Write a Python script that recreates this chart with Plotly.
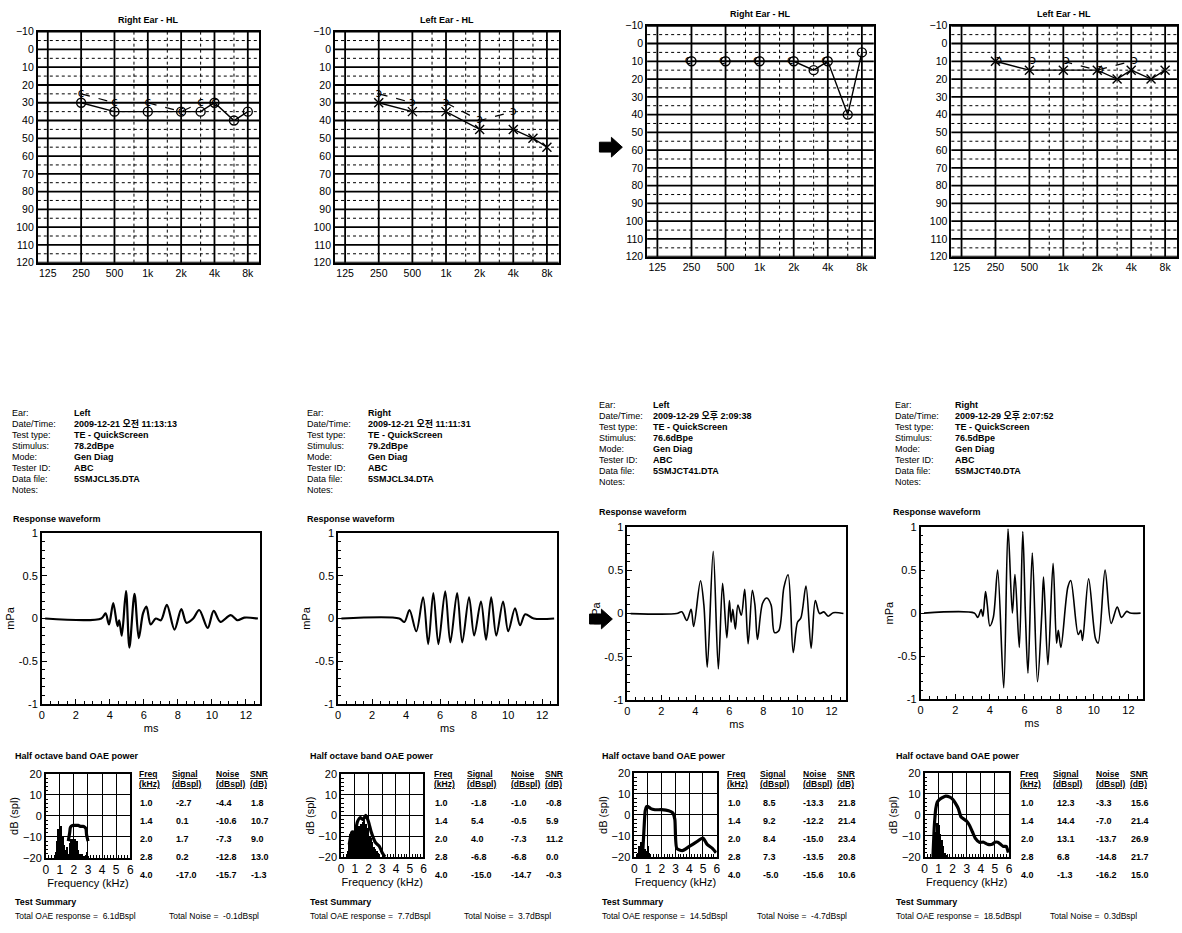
import math
import plotly.graph_objects as go

W, H = 1182, 933
FONT = "Liberation Sans, Arial, Noto Sans CJK KR, sans-serif"

# ---------------- DATA ----------------
AUD_TICK_FREQS = [125, 250, 500, 1000, 2000, 4000, 8000]
AUD_TICK_TEXT = ["125", "250", "500", "1k", "2k", "4k", "8k"]
AUD_HALF_FREQS = [750, 1500, 3000, 6000]
AUD_DB_TICKS = [-10, 0, 10, 20, 30, 40, 50, 60, 70, 80, 90, 100, 110, 120]
AUD_DB_HALF = [-5, 5, 15, 25, 35, 45, 55, 65, 75, 85, 95, 105, 115]
AUD_TITLES = ["Right Ear - HL", "Left Ear - HL", "Right Ear - HL", "Left Ear - HL"]

# audiogram 1 : right ear, before
A1_AIR_F = [250, 500, 1000, 2000, 3000, 4000, 6000, 8000]
A1_AIR_DB = [30, 35, 35, 35, 35, 30, 40, 35]
A1_BONE_F = [250, 500, None, 1000, 2000, 3000, 4000]
A1_BONE_DB = [25, 30, None, 30, 35, 30, 30]
# audiogram 2 : left ear, before
A2_AIR_F = [250, 500, 1000, 2000, 4000, 6000, 8000]
A2_AIR_DB = [30, 35, 35, 45, 45, 50, 55]
A2_BONE_F = [250, 500, None, 1000, 2000, 4000]
A2_BONE_DB = [25, 30, None, 30, 40, 35]
# audiogram 3 : right ear, after
A3_AIR_F = [250, 500, 1000, 2000, 3000, 4000, 6000, 8000]
A3_AIR_DB = [10, 10, 10, 10, 15, 10, 40, 5]
A3_BONE_F = [250, 500, 1000, 2000, 4000]
A3_BONE_DB = [10, 10, 10, 10, 10]
# audiogram 4 : left ear, after
A4_AIR_F = [250, 500, 1000, 2000, 3000, 4000, 6000, 8000]
A4_AIR_DB = [10, 15, 15, 15, 20, 15, 20, 15]
A4_BONE_F = [250, None, 500, None, 1000, 2000, 4000]
A4_BONE_DB = [10, None, 10, None, 10, 15, 10]

INFO_LABELS = ["Ear:", "Date/Time:", "Test type:", "Stimulus:", "Mode:", "Tester ID:", "Data file:", "Notes:"]
INFO_1 = ["Left", "2009-12-21 오전 11:13:13", "TE - QuickScreen", "78.2dBpe", "Gen Diag", "ABC", "5SMJCL35.DTA", ""]
INFO_2 = ["Right", "2009-12-21 오전 11:11:31", "TE - QuickScreen", "79.2dBpe", "Gen Diag", "ABC", "5SMJCL34.DTA", ""]
INFO_3 = ["Left", "2009-12-29 오후 2:09:38", "TE - QuickScreen", "76.6dBpe", "Gen Diag", "ABC", "5SMJCT41.DTA", ""]
INFO_4 = ["Right", "2009-12-29 오후 2:07:52", "TE - QuickScreen", "76.5dBpe", "Gen Diag", "ABC", "5SMJCT40.DTA", ""]

# response waveforms (ms, mPa)
W1_T = [0.2, 3.5, 3.75, 3.95, 4.2, 4.45, 4.55, 4.7, 4.95, 5.15, 5.45, 5.7, 5.95, 6.15, 6.4, 6.7, 7.0, 7.35, 7.8, 8.2, 8.5, 8.9, 9.25, 9.75, 10.1, 10.5, 11.1, 11.5, 11.9, 12.7]
W1_V = [0, 0, 0.06, -0.07, 0.18, -0.09, -0.02, -0.2, 0.32, -0.34, 0.29, -0.23, 0.06, 0.14, -0.07, 0.0, -0.02, 0.16, -0.13, 0.11, -0.05, 0.0, 0.1, -0.11, 0.09, -0.04, 0.04, -0.02, 0.01, 0]
W2_T = [0.2, 3.6, 3.9, 4.2, 4.6, 5.0, 5.3, 5.6, 5.9, 6.3, 6.6, 7.0, 7.3, 7.7, 8.0, 8.4, 8.7, 9.0, 9.3, 9.7, 10.0, 10.4, 10.7, 11.0, 11.5, 12.7]
W2_V = [0, 0, -0.04, 0.1, -0.15, 0.25, -0.3, 0.3, -0.3, 0.32, -0.28, 0.3, -0.28, 0.25, -0.2, 0.2, -0.25, 0.25, -0.2, 0.2, -0.15, 0.12, -0.08, 0.05, 0.0, 0]
W3_T = [0.2, 2.9, 3.2, 3.5, 3.75, 3.9, 4.3, 4.5, 4.7, 5.05, 5.35, 5.6, 5.85, 6.0, 6.1, 6.2, 6.35, 6.5, 6.7, 6.9, 7.1, 7.35, 7.5, 7.65, 7.95, 8.2, 8.45, 8.65, 8.9, 9.2, 9.45, 9.75, 10.0, 10.2, 10.5, 10.8, 11.05, 11.3, 11.55, 11.8, 12.1, 12.7]
W3_V = [0, 0, 0.02, -0.08, 0.05, -0.15, 0.38, 0.1, -0.62, 0.72, -0.64, 0.35, -0.28, 0.15, -0.1, 0.05, -0.18, 0.1, -0.02, 0.28, -0.35, 0.27, 0.1, -0.3, 0.12, 0.18, 0.1, -0.22, -0.2, 0.3, 0.45, -0.45, -0.1, -0.05, 0.32, -0.4, 0.15, 0.0, 0.02, -0.03, 0.01, 0]
W4_T = [0.2, 3.1, 3.3, 3.5, 3.6, 3.75, 3.85, 4.0, 4.2, 4.45, 4.8, 5.05, 5.3, 5.45, 5.7, 5.9, 6.05, 6.2, 6.45, 6.75, 7.0, 7.1, 7.35, 7.65, 7.85, 7.95, 8.1, 8.5, 8.67, 9.1, 9.25, 9.35, 9.7, 10.1, 10.25, 10.65, 11.0, 11.35, 11.6, 11.9, 12.1, 12.7]
W4_V = [0, 0, -0.05, 0.04, -0.04, 0.25, 0.1, -0.15, -0.05, 0.5, -0.87, 0.98, 0.0, 0.45, -0.4, 0.95, 0.0, -0.7, 0.7, -0.8, 0.0, 0.42, -0.6, 0.58, -0.35, -0.2, -0.4, 0.3, 0.38, -0.25, -0.2, -0.32, 0.4, -0.3, -0.35, 0.5, -0.12, 0.07, -0.05, 0.02, 0.0, 0]

# half octave band OAE power spectra (kHz, dB spl)
O1_NOISE_F = [0.7, 0.8, 0.9, 1.0, 1.1, 1.2, 1.3, 1.4, 1.5, 1.6, 1.7, 1.8, 1.9, 2.0, 2.1, 2.2, 2.3, 2.4, 2.5, 2.6, 2.7, 2.8, 2.9, 3.0]
O1_NOISE_DB = [-17, -12, -6, -8, -5, -10, -14, -16, -15, -18, -13, -11, -11, -12, -11, -12, -16, -18, -19, -18, -19, -19, -17, -19]
O1_SIG_F = [1.6, 1.7, 1.75, 1.9, 2.1, 2.3, 2.5, 2.7, 2.85, 2.9, 3.0]
O1_SIG_DB = [-12, -8, -5.5, -4.5, -4.5, -4.5, -5, -5, -6, -9, -12]
O2_NOISE_F = [0.5, 0.6, 0.7, 0.8, 0.9, 1.0, 1.1, 1.2, 1.3, 1.4, 1.5, 1.6, 1.7, 1.8, 1.9, 2.0, 2.1, 2.2, 2.3, 2.4, 2.5, 2.6, 2.7, 2.8]
O2_NOISE_DB = [-17, -14, -9, -8, -8, -8, -6, -3, -5, -10, -4, -3, -2, -4, -6, -8, -10, -11, -13, -15, -16, -17, -18, -19]
O2_SIG_F = [0.6, 0.8, 1.0, 1.2, 1.4, 1.6, 1.8, 2.0, 2.2, 2.5, 2.8, 3.0, 3.2]
O2_SIG_DB = [-14, -8, -8, -3, -1, -2, 0, -3, -8, -13, -15, -18, -20]
O3_NOISE_F = [0.3, 0.4, 0.5, 0.6, 0.7, 0.8, 0.9, 1.0, 1.1, 1.2]
O3_NOISE_DB = [-18, -15, -13, -14, -17, -16, -17, -15, -18, -19]
O3_SIG_F = [0.6, 0.7, 0.8, 0.9, 1.0, 1.2, 1.5, 2.0, 2.5, 2.8, 2.95, 3.1, 3.5, 4.0, 4.5, 5.0, 5.3, 5.7, 5.95]
O3_SIG_DB = [-20, -8, 2, 4, 4, 3, 2.5, 2.5, 2, 1, -2, -16, -17, -15, -13, -11, -14, -16, -18]
O4_NOISE_F = [0.6, 0.7, 0.8, 0.9, 1.0, 1.1, 1.2, 1.3, 1.4, 1.5]
O4_NOISE_DB = [-17, -12, -8, -4, -5, -9, -12, -15, -18, -19]
O4_SIG_F = [0.6, 0.7, 0.8, 0.9, 1.0, 1.2, 1.5, 1.8, 2.0, 2.2, 2.4, 2.6, 2.8, 3.0, 3.2, 3.4, 3.6, 3.9, 4.2, 4.5, 4.8, 5.0, 5.2, 5.4, 5.6, 5.8, 5.95]
O4_SIG_DB = [-20, -5, 3, 6, 7, 8, 9, 8.5, 7.5, 5.5, 3, -1, -2, -3, -5, -8, -11, -13, -13, -14, -14, -13, -13, -14, -15, -15, -18]

TABLE_FREQ = ["1.0", "1.4", "2.0", "2.8", "4.0"]
T1_SIG = ["-2.7", "0.1", "1.7", "0.2", "-17.0"]
T1_NOISE = ["-4.4", "-10.6", "-7.3", "-12.8", "-15.7"]
T1_SNR = ["1.8", "10.7", "9.0", "13.0", "-1.3"]
T2_SIG = ["-1.8", "5.4", "4.0", "-6.8", "-15.0"]
T2_NOISE = ["-1.0", "-0.5", "-7.3", "-6.8", "-14.7"]
T2_SNR = ["-0.8", "5.9", "11.2", "0.0", "-0.3"]
T3_SIG = ["8.5", "9.2", "8.4", "7.3", "-5.0"]
T3_NOISE = ["-13.3", "-12.2", "-15.0", "-13.5", "-15.6"]
T3_SNR = ["21.8", "21.4", "23.4", "20.8", "10.6"]
T4_SIG = ["12.3", "14.4", "13.1", "6.8", "-1.3"]
T4_NOISE = ["-3.3", "-7.0", "-13.7", "-14.8", "-16.2"]
T4_SNR = ["15.6", "21.4", "26.9", "21.7", "15.0"]

TOTAL_OAE = ["6.1dBspl", "7.7dBspl", "14.5dBspl", "18.5dBspl"]
TOTAL_NOISE = ["-0.1dBspl", "3.7dBspl", "-4.7dBspl", "0.3dBspl"]

# ---------------- FIGURE ----------------
fig = go.Figure()
layout = dict(width=W, height=H, margin=dict(l=0, r=0, t=0, b=0, pad=0),
              plot_bgcolor="white", paper_bgcolor="white", showlegend=False,
              font=dict(family=FONT, color="black"))


def ax_name(kind, i):
    return kind + ("axis" if i == 1 else "axis%d" % i)


def set_axes(i, box, xcfg, ycfg):
    x0, x1, y0, y1 = box
    xcfg = dict(xcfg, domain=[x0 / W, x1 / W], anchor="y" if i == 1 else "y%d" % i)
    ycfg = dict(ycfg, domain=[1 - y1 / H, 1 - y0 / H], anchor="x" if i == 1 else "x%d" % i)
    layout[ax_name("x", i)] = xcfg
    layout[ax_name("y", i)] = ycfg


def ref(i):
    return ("x" if i == 1 else "x%d" % i), ("y" if i == 1 else "y%d" % i)


def text(x, y, s, size=9.5, anchor="left", bold=False, yanchor="middle"):
    fig.add_annotation(x=x / W, y=1 - y / H, xref="paper", yref="paper",
                       text=("<b>%s</b>" % s if bold else s), showarrow=False,
                       xanchor=anchor, yanchor=yanchor,
                       font=dict(size=size, family=FONT, color="black"))


def oct_pos(freqs):
    return [None if f is None else math.log2(f / 125.0) for f in freqs]


def vgrid(i, xs, width, dash):
    xr, yr = ref(i)
    for xv in xs:
        fig.add_shape(type="line", xref=xr, yref=yr + " domain", x0=xv, x1=xv, y0=0, y1=1,
                      line=dict(color="black", width=width, dash=dash), layer="below")


def hgrid(i, ys, width, dash):
    xr, yr = ref(i)
    for yv in ys:
        fig.add_shape(type="line", xref=xr + " domain", yref=yr, x0=0, x1=1, y0=yv, y1=yv,
                      line=dict(color="black", width=width, dash=dash), layer="below")


# ----- audiograms -----
AUD_BOX = [(35, 258, 26, 260), (334, 559, 26, 260), (648, 876, 20, 254), (954, 1181, 20, 254)]
aud_series = [
    (A1_AIR_F, A1_AIR_DB, "circle-open", A1_BONE_F, A1_BONE_DB, "c", "lines+text", "middle center"),
    (A2_AIR_F, A2_AIR_DB, "x-thin-open", A2_BONE_F, A2_BONE_DB, "ɔ", "lines+text", "middle center"),
    (A3_AIR_F, A3_AIR_DB, "circle-open", A3_BONE_F, A3_BONE_DB, "c", "text", "middle left"),
    (A4_AIR_F, A4_AIR_DB, "x-thin-open", A4_BONE_F, A4_BONE_DB, "ɔ", "lines+text", "middle right"),
]
for k in range(4):
    i = k + 1
    box = AUD_BOX[k]
    xcfg = dict(range=[-0.3, 6.35], tickvals=oct_pos(AUD_TICK_FREQS), ticktext=AUD_TICK_TEXT,
                showgrid=False, zeroline=False,
                showline=True, mirror=True, linecolor="black", linewidth=1.8, ticks="",
                tickfont=dict(size=10.5, family=FONT), fixedrange=True)
    ycfg = dict(range=[120, -10], tickvals=AUD_DB_TICKS, showgrid=False,
                zeroline=False, showline=True, mirror=True, linecolor="black",
                linewidth=1.8, ticks="", tickfont=dict(size=10.5, family=FONT), fixedrange=True)
    set_axes(i, box, xcfg, ycfg)
    vgrid(i, oct_pos(AUD_TICK_FREQS), 1.8, "solid")
    vgrid(i, oct_pos(AUD_HALF_FREQS), 1.0, "dot")
    hgrid(i, AUD_DB_TICKS, 1.8, "solid")
    hgrid(i, AUD_DB_HALF, 1.0, "dot")
    xr, yr = ref(i)
    af, adb, sym, bf, bdb, btxt, bmode, bpos = aud_series[k]
    fig.add_trace(go.Scatter(x=oct_pos(af), y=adb, mode="lines+markers", xaxis=xr, yaxis=yr,
                             line=dict(color="black", width=1.4),
                             marker=dict(symbol=sym, size=9, color="black",
                                         line=dict(color="black", width=1.4))))
    fig.add_trace(go.Scatter(x=oct_pos(bf), y=bdb, mode=bmode, xaxis=xr, yaxis=yr,
                             text=[btxt if d is not None else "" for d in bdb],
                             textposition=bpos,
                             textfont=dict(size=12, color="black", family="DejaVu Sans"),
                             line=dict(color="black", width=1.2, dash="dash")))
    text((box[0] + box[1]) / 2, box[2] - 12, AUD_TITLES[k], size=9, anchor="center", bold=True)

# ----- arrows -----
for (ax0, ay) in [(600, 143), (590, 621)]:
    pts = [(ax0, ay - 5), (ax0 + 12, ay - 5), (ax0 + 12, ay - 10), (ax0 + 23, ay),
           (ax0 + 12, ay + 10), (ax0 + 12, ay + 5), (ax0, ay + 5)]
    path = "M " + " L ".join("%.4f,%.4f" % (px / W, 1 - py / H) for px, py in pts) + " Z"
    fig.add_shape(type="path", path=path, xref="paper", yref="paper",
                  fillcolor="black", line=dict(color="black", width=1))

# ----- info blocks -----
COL_LABEL_X = [7, 304, 598, 895]
COL_VALUE_X = [69, 365, 652, 956]
COL_INFO_Y0 = [412, 412, 404, 404]
infos = [INFO_1, INFO_2, INFO_3, INFO_4]
for c in range(4):
    for r, lab in enumerate(INFO_LABELS):
        y = COL_INFO_Y0[c] + r * 11.2
        text(COL_LABEL_X[c], y, lab, size=9)
        if infos[c][r]:
            text(COL_VALUE_X[c], y, infos[c][r], size=9, bold=True)

# ----- waveforms -----
WAVE_BOX = [(39, 259, 534, 707), (337, 557, 534, 707), (628, 848, 528, 703), (923, 1147, 528, 702)]
WAVE_TITLE = [(8, 520), (304, 520), (598, 513), (893, 513)]
WAVE_WIDTH = [2.2, 2.0, 1.6, 1.6]
waves = [(W1_T, W1_V), (W2_T, W2_V), (W3_T, W3_V), (W4_T, W4_V)]
for k in range(4):
    i = 5 + k
    xcfg = dict(range=[0, 12.85], tickvals=[0, 2, 4, 6, 8, 10, 12], showgrid=False, zeroline=False,
                showline=True, mirror=True, linecolor="black", linewidth=1.5,
                ticks="inside", ticklen=5, tickcolor="black", tickfont=dict(size=11, family=FONT),
                minor=dict(dtick=0.5, ticks="inside", ticklen=3, tickcolor="black"),
                title=dict(text="ms", font=dict(size=11), standoff=4), fixedrange=True)
    ycfg = dict(range=[-1, 1], tickvals=[-1, -0.5, 0, 0.5, 1], ticktext=["-1", "-0.5", "0", "0.5", "1"],
                showgrid=False, zeroline=False, showline=True, mirror=True, linecolor="black",
                linewidth=1.5, ticks="inside", ticklen=5, tickcolor="black",
                tickfont=dict(size=11, family=FONT),
                minor=dict(dtick=0.1, ticks="inside", ticklen=3, tickcolor="black"),
                title=dict(text="mPa", font=dict(size=11), standoff=2), fixedrange=True)
    set_axes(i, WAVE_BOX[k], xcfg, ycfg)
    xr, yr = ref(i)
    t, v = waves[k]
    fig.add_trace(go.Scatter(x=t, y=v, mode="lines", xaxis=xr, yaxis=yr,
                             line=dict(color="black", width=WAVE_WIDTH[k], shape="spline", smoothing=0.9)))
    text(WAVE_TITLE[k][0], WAVE_TITLE[k][1], "Response waveform", size=9, bold=True)

# ----- OAE power plots, tables and summaries -----
OAE_BOX = [(43, 128, 778, 863), (340, 423, 778, 862), (635, 718, 777, 862), (927, 1012, 777, 862)]
BLOCK_DX = [0, 297, 591, 886]
oae = [(O1_NOISE_F, O1_NOISE_DB, O1_SIG_F, O1_SIG_DB),
       (O2_NOISE_F, O2_NOISE_DB, O2_SIG_F, O2_SIG_DB),
       (O3_NOISE_F, O3_NOISE_DB, O3_SIG_F, O3_SIG_DB),
       (O4_NOISE_F, O4_NOISE_DB, O4_SIG_F, O4_SIG_DB)]
tables = [(T1_SIG, T1_NOISE, T1_SNR), (T2_SIG, T2_NOISE, T2_SNR),
          (T3_SIG, T3_NOISE, T3_SNR), (T4_SIG, T4_NOISE, T4_SNR)]
for k in range(4):
    i = 9 + k
    xcfg = dict(range=[0, 6], dtick=1, showgrid=True, gridcolor="black", gridwidth=1.2,
                zeroline=False, showline=True, mirror=True, linecolor="black", linewidth=1.5,
                ticks="", tickfont=dict(size=12, family=FONT),
                minor=dict(dtick=0.2, ticks="inside", ticklen=3, tickcolor="black"),
                title=dict(text="Frequency (kHz)", font=dict(size=11), standoff=2), fixedrange=True)
    ycfg = dict(range=[-20, 20], dtick=10, showgrid=True, gridcolor="black", gridwidth=1.2,
                zeroline=False, showline=True, mirror=True, linecolor="black", linewidth=1.5,
                ticks="", tickfont=dict(size=11, family=FONT),
                minor=dict(dtick=2, ticks="inside", ticklen=3, tickcolor="black"),
                title=dict(text="dB (spl)", font=dict(size=11), standoff=2), fixedrange=True)
    set_axes(i, OAE_BOX[k], xcfg, ycfg)
    xr, yr = ref(i)
    nf, ndb, sf, sdb = oae[k]
    fig.add_trace(go.Bar(x=nf, y=[d + 20 for d in ndb], base=-20, width=0.1, xaxis=xr, yaxis=yr,
                         marker=dict(color="black", line=dict(width=0))))
    fig.add_trace(go.Scatter(x=sf, y=sdb, mode="lines", xaxis=xr, yaxis=yr,
                             line=dict(color="black", width=3.2, shape="spline", smoothing=0.6)))
    dxk = BLOCK_DX[k]
    text(10 + dxk, 760, "Half octave band OAE power", size=9, bold=True)
    text(135 + dxk, 778, "<u>Freq</u>", size=8.5, bold=True)
    text(135 + dxk, 788, "<u>(kHz)</u>", size=8.5, bold=True)
    text(168 + dxk, 778, "<u>Signal</u>", size=8.5, bold=True)
    text(168 + dxk, 788, "<u>(dBspl)</u>", size=8.5, bold=True)
    text(212 + dxk, 778, "<u>Noise</u>", size=8.5, bold=True)
    text(212 + dxk, 788, "<u>(dBspl)</u>", size=8.5, bold=True)
    text(246 + dxk, 778, "<u>SNR</u>", size=8.5, bold=True)
    text(246 + dxk, 788, "<u>(dB)</u>", size=8.5, bold=True)
    sig, noi, snr = tables[k]
    for r in range(5):
        y = 807 + r * 18.3
        text(136 + dxk, y, TABLE_FREQ[r], size=9, bold=True)
        text(172 + dxk, y, sig[r], size=9, bold=True)
        text(212 + dxk, y, noi[r], size=9, bold=True)
        text(247 + dxk, y, snr[r], size=9, bold=True)
    text(10 + dxk, 908, "Test Summary", size=9, bold=True)
    text(10 + dxk, 922, "Total OAE response =  " + TOTAL_OAE[k], size=8.5)
    text(165 + dxk, 922, "Total Noise =  " + TOTAL_NOISE[k], size=8.5)

fig.update_layout(**layout)
fig.update_layout(bargap=0)
fig.write_html("out.html", config={"displayModeBar": False},
               post_script="document.body.style.margin='0px';document.body.style.overflow='hidden';")
